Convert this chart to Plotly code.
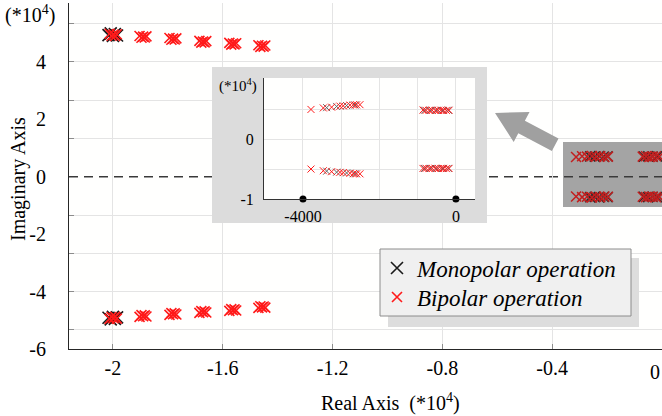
import plotly.graph_objects as go

# ---------------------------------------------------------------- data
# Closed-loop poles (real / imaginary parts in units of 1e4)

# dominant poles, bipolar operation: six parameter steps, each a small cloud
BI_UP_X = [-2.012, -2.005, -1.998, -1.992, -1.986,
           -1.903, -1.896, -1.890, -1.884, -1.878,
           -1.794, -1.787, -1.781, -1.775, -1.769,
           -1.685, -1.678, -1.672, -1.666, -1.660,
           -1.576, -1.569, -1.563, -1.557, -1.551,
           -1.470, -1.463, -1.457, -1.451, -1.445]
BI_UP_Y = [4.98, 4.91, 4.95, 4.90, 4.96,
           4.90, 4.84, 4.88, 4.85, 4.89,
           4.83, 4.77, 4.81, 4.78, 4.82,
           4.73, 4.67, 4.71, 4.68, 4.72,
           4.66, 4.60, 4.64, 4.61, 4.65,
           4.58, 4.52, 4.56, 4.53, 4.57]
BI_LO_X = BI_UP_X
BI_LO_Y = [-4.95, -4.89, -4.93, -4.88, -4.94,
           -4.88, -4.82, -4.86, -4.83, -4.87,
           -4.81, -4.75, -4.79, -4.76, -4.80,
           -4.74, -4.68, -4.72, -4.69, -4.73,
           -4.67, -4.61, -4.65, -4.62, -4.66,
           -4.57, -4.51, -4.55, -4.52, -4.56]

# dominant poles, monopolar operation (do not move)
MONO_UP_X = [-2.016, -2.008, -2.000, -1.993, -1.985]
MONO_UP_Y = [4.93, 4.99, 4.90, 4.97, 4.92]
MONO_LO_X = [-2.016, -2.008, -2.000, -1.993, -1.985]
MONO_LO_Y = [-4.91, -4.97, -4.88, -4.95, -4.90]

# poles close to the origin (shaded region)
NEAR_BI_X = [-0.313, -0.291, -0.273, -0.255, -0.240, -0.225, -0.210, -0.197,
             -0.070, -0.058, -0.046, -0.034, -0.022, -0.010]
NEAR_BI_UP_Y = [0.69, 0.71, 0.70, 0.72, 0.70, 0.71, 0.69, 0.70,
                0.70, 0.71, 0.69, 0.70, 0.71, 0.70]
NEAR_BI_LO_Y = [-0.69, -0.71, -0.70, -0.72, -0.70, -0.71, -0.69, -0.70,
                -0.70, -0.71, -0.69, -0.70, -0.71, -0.70]
NEAR_MONO_X = [-0.262, -0.245, -0.228, -0.212, -0.198,
               -0.066, -0.050, -0.034, -0.018]
NEAR_MONO_UP_Y = [0.71, 0.70, 0.72, 0.70, 0.71, 0.70, 0.71, 0.70, 0.71]
NEAR_MONO_LO_Y = [-0.71, -0.70, -0.72, -0.70, -0.71, -0.70, -0.71, -0.70, -0.71]

# zoomed view of the poles near the origin (real part in rad/s, imag in 1e4)
ZOOM_BI_X = [-3791, -3468, -3251, -3033, -2946, -2771, -2685, -2597, -2510,
             -860, -780, -700, -620, -540, -460, -390, -320, -250, -180]
ZOOM_BI_UP_Y = [0.495, 0.520, 0.533, 0.550, 0.555, 0.567, 0.572, 0.572, 0.575,
                0.485, 0.480, 0.480, 0.482, 0.478, 0.480, 0.482, 0.478, 0.480, 0.481]
ZOOM_BI_LO_Y = [-0.500, -0.528, -0.544, -0.555, -0.560, -0.570, -0.578, -0.580, -0.580,
                -0.490, -0.488, -0.492, -0.490, -0.487, -0.491, -0.490, -0.489, -0.492, -0.490]
ZOOM_MONO_X = [-3381, -3120, -2859, -2640, -820, -660, -500, -350, -200]
ZOOM_MONO_UP_Y = [0.525, 0.545, 0.560, 0.570, 0.482, 0.480, 0.481, 0.480, 0.482]
ZOOM_MONO_LO_Y = [-0.535, -0.552, -0.565, -0.578, -0.490, -0.489, -0.491, -0.490, -0.489]
ZOOM_REF_X = [-4000, 0]
ZOOM_REF_Y = [-1, -1]

# axis ticks
X_TICKS = [-2, -1.6, -1.2, -0.8, -0.4]
X_TICK_TEXT = ["-2", "-1.6", "-1.2", "-0.8", "-0.4"]
Y_TICKS = [-6, -4, -2, 0, 2, 4]
Y_TICK_TEXT = ["-6", "-4", "-2", "0", "2", "4"]
Y_GRID = [-16 / 3, -4, -8 / 3, -4 / 3, 4 / 3, 8 / 3, 4, 16 / 3]
ZX_TICKS = [-4000, 0]
ZX_TICK_TEXT = ["-4000", "0"]
ZX_GRID = [-4000, -3000, -2000, -1000, 0]
ZY_TICKS = [-1, 0]
ZY_TICK_TEXT = ["-1", "0"]
ZY_GRID = [-0.5, 0, 0.5]

# ---------------------------------------------------------------- layout helpers
W, H = 662, 416
ML, MR, MT, MB = 69, 0, 3, 67
PW, PH = W - ML - MR, H - MT - MB


def px(x):
    return (x - ML) / PW


def py(y):
    return (H - MB - y) / PH


SERIF = "'Liberation Serif', 'Times New Roman', Times, serif"
RED = "#ff1a1a"
BLACK = "#1a1a1a"
GRID = "#e4e4e4"


def xmark(color, size, width):
    return dict(symbol="x-thin", size=size, color=color,
                line=dict(width=width, color=color))


fig = go.Figure()

# main plot -- monopolar first so the bipolar markers sit on top
fig.add_trace(go.Scatter(x=MONO_UP_X + MONO_LO_X, y=MONO_UP_Y + MONO_LO_Y,
                         mode="markers", name="Monopolar operation", legend="legend",
                         marker=xmark(BLACK, 12, 1.6)))
fig.add_trace(go.Scatter(x=NEAR_MONO_X + NEAR_MONO_X, y=NEAR_MONO_UP_Y + NEAR_MONO_LO_Y,
                         mode="markers", showlegend=False,
                         marker=xmark("#2b2b2b", 10, 1.6)))
fig.add_trace(go.Scatter(x=BI_UP_X + BI_LO_X, y=BI_UP_Y + BI_LO_Y,
                         mode="markers", name="Bipolar operation", legend="legend2",
                         marker=xmark(RED, 10, 1.6)))
fig.add_trace(go.Scatter(x=NEAR_BI_X + NEAR_BI_X, y=NEAR_BI_UP_Y + NEAR_BI_LO_Y,
                         mode="markers", showlegend=False,
                         marker=xmark("#c21f1f", 10, 1.5)))

# frame subplot behind the zoomed view
fig.add_trace(go.Scatter(x=[], y=[], xaxis="x2", yaxis="y2", showlegend=False))

# zoomed view
fig.add_trace(go.Scatter(x=ZOOM_MONO_X + ZOOM_MONO_X, y=ZOOM_MONO_UP_Y + ZOOM_MONO_LO_Y,
                         xaxis="x3", yaxis="y3", mode="markers", showlegend=False,
                         marker=xmark("#666666", 7, 1)))
fig.add_trace(go.Scatter(x=ZOOM_BI_X + ZOOM_BI_X, y=ZOOM_BI_UP_Y + ZOOM_BI_LO_Y,
                         xaxis="x3", yaxis="y3", mode="markers", showlegend=False,
                         marker=xmark(RED, 7, 1)))
fig.add_trace(go.Scatter(x=ZOOM_REF_X, y=ZOOM_REF_Y, xaxis="x3", yaxis="y3",
                         mode="markers", showlegend=False, cliponaxis=False,
                         marker=dict(symbol="circle", size=7, color="black")))

tickfont = dict(family=SERIF, size=20, color="black")
zfont = dict(family=SERIF, size=16, color="black")
legfont = dict(family=SERIF, size=23, color="black", style="italic")

fig.update_layout(
    width=W, height=H,
    margin=dict(l=ML, r=MR, t=MT, b=MB),
    paper_bgcolor="white",
    plot_bgcolor="#fffffe",
    hovermode=False,
    font=dict(family=SERIF),
    xaxis=dict(
        range=[-2.16, 0.0], tickmode="array", tickvals=X_TICKS, ticktext=X_TICK_TEXT,
        showgrid=True, gridcolor=GRID, gridwidth=1, zeroline=False,
        ticks="inside", ticklen=5, tickcolor="#8c8c8c",
        showline=True, linecolor="#262626", linewidth=1,
        tickfont=tickfont, ticklabelstandoff=1,
    ),
    yaxis=dict(
        range=[-6, 6.05], tickmode="array", tickvals=Y_TICKS, ticktext=Y_TICK_TEXT,
        showgrid=False, zeroline=False, ticks="",
        minor=dict(tickmode="array", tickvals=Y_GRID, showgrid=True, gridcolor=GRID,
                   ticks="inside", ticklen=5, tickcolor="#8c8c8c"),
        showline=True, linecolor="#262626", linewidth=1,
        tickfont=tickfont, ticklabelstandoff=18,
    ),
    xaxis2=dict(domain=[px(212), px(487)], anchor="y2", range=[0, 1], visible=False),
    yaxis2=dict(domain=[py(223), py(67)], anchor="x2", range=[0, 1], visible=False),
    xaxis3=dict(
        domain=[px(264), px(475)], anchor="y3", range=[-5020, 500],
        tickmode="array", tickvals=ZX_TICKS, ticktext=ZX_TICK_TEXT,
        showgrid=False, zeroline=False, ticks="",
        minor=dict(tickmode="array", tickvals=ZX_GRID, showgrid=True, gridcolor=GRID),
        showline=True, linecolor="#333333", linewidth=1,
        tickfont=zfont, ticklabelstandoff=3,
    ),
    yaxis3=dict(
        domain=[py(199), py(78)], anchor="x3", range=[-1, 1.02],
        tickmode="array", tickvals=ZY_TICKS, ticktext=ZY_TICK_TEXT,
        showgrid=False, zeroline=False, ticks="",
        minor=dict(tickmode="array", tickvals=ZY_GRID, showgrid=True, gridcolor=GRID),
        showline=True, linecolor="#333333", linewidth=1,
        tickfont=zfont, ticklabelstandoff=6,
    ),
    # one legend per entry so the row spacing can be set exactly;
    # the shared box is drawn as a shape underneath
    legend=dict(x=px(377), y=py(268), xanchor="left", yanchor="middle",
                bgcolor="rgba(0,0,0,0)", borderwidth=0, font=legfont),
    legend2=dict(x=px(377), y=py(297), xanchor="left", yanchor="middle",
                 bgcolor="rgba(0,0,0,0)", borderwidth=0, font=legfont),
)

# arrow pointing from the shaded region to the zoomed view
arrow = [(495, 113), (529.5, 112), (524.9, 120.8), (558.5, 138.5),
         (551.9, 150.9), (518.3, 133.2), (513.7, 142)]
arrow_path = "M " + " L ".join(f"{px(a):.4f},{py(b):.4f}" for a, b in arrow) + " Z"

fig.update_layout(shapes=[
    # shaded region near the origin
    dict(type="rect", xref="paper", yref="paper", x0=px(563), x1=1.0,
         y0=py(207), y1=py(142), fillcolor="#a4a4a4", line=dict(width=0), layer="below"),
    # dashed real axis
    dict(type="line", xref="paper", yref="y", x0=0, x1=1, y0=0, y1=0,
         line=dict(color="#3a3a3a", width=1.4, dash="9px,6px"), layer="below"),
    # grey frame around the zoomed view
    dict(type="rect", xref="x2", yref="y2", x0=0, x1=1, y0=0, y1=1,
         fillcolor="#dcdcdc", line=dict(width=0), layer="below"),
    dict(type="path", xref="paper", yref="paper", path=arrow_path,
         fillcolor="#a0a0a0", line=dict(width=0), layer="above"),
    # legend drop shadow and box
    dict(type="rect", xref="paper", yref="paper", x0=px(388), x1=px(639),
         y0=py(327), y1=py(258), fillcolor="#dddddd", line=dict(width=0), layer="above"),
    dict(type="rect", xref="paper", yref="paper", x0=px(380), x1=px(631),
         y0=py(316), y1=py(249), fillcolor="#f0f0f0",
         line=dict(width=1, color="#8c8c8c"), layer="above"),
])

fig.update_layout(annotations=[
    dict(text="(*10<sup>4</sup>)", xref="paper", yref="paper", x=px(30), y=py(15),
         showarrow=False, font=tickfont, xanchor="center", yanchor="middle"),
    dict(text="Real Axis\u00a0\u00a0(*10<sup>4</sup>)", xref="paper", yref="paper",
         x=px(390), y=py(402), showarrow=False, font=tickfont,
         xanchor="center", yanchor="middle"),
    dict(text="Imaginary Axis", xref="paper", yref="paper", x=px(18), y=py(179),
         textangle=-90, showarrow=False, font=tickfont,
         xanchor="center", yanchor="middle"),
    dict(text="0", xref="x", yref="paper", x=0, y=py(372), showarrow=False,
         font=tickfont, xanchor="right", yanchor="middle"),
    dict(text="(*10<sup>4</sup>)", xref="paper", yref="paper", x=px(238), y=py(85),
         showarrow=False, font=dict(family=SERIF, size=15, color="black"),
         xanchor="center", yanchor="middle"),
])

fig.write_html("out.html")
